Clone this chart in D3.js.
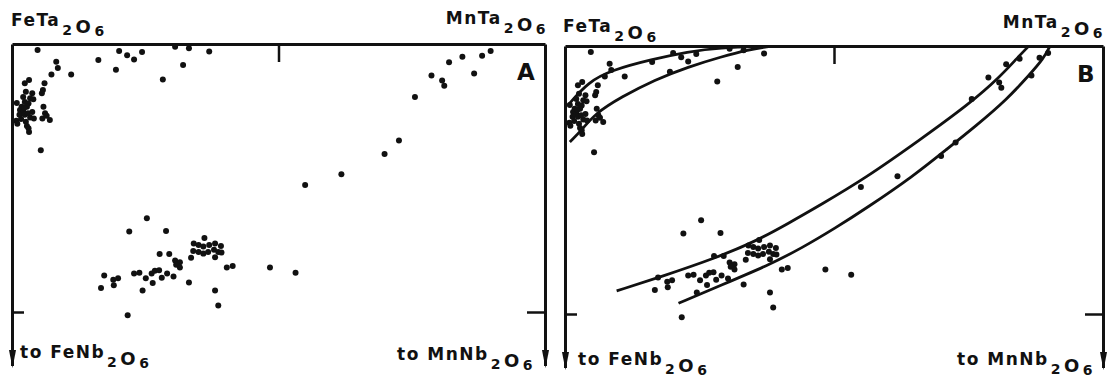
<!DOCTYPE html>
<html>
<head>
<meta charset="utf-8">
<script src="https://cdn.jsdelivr.net/npm/d3@7"></script>
<style>
  body { margin: 0; background: #fff; }
  svg { display: block; }
  text { font-family: "DejaVu Sans", sans-serif; font-weight: bold; fill: #111; }
</style>
</head>
<body>
<svg id="chart" width="1116" height="378"></svg>
<script>
// x = Mn/(Mn+Fe), y = Nb/(Nb+Ta) (0 at the tantalite edge, tick at 0.5)
// same analyses are plotted in both panels
const samplePoints = [
  [0.048, 0.011], [0.083, 0.033], [0.086, 0.045], [0.074, 0.057], [0.111, 0.057], [0.162, 0.030],
  [0.032, 0.067], [0.024, 0.073], [0.061, 0.073], [0.058, 0.086], [0.056, 0.092], [0.026, 0.089],
  [0.038, 0.092], [0.021, 0.099], [0.034, 0.101], [0.040, 0.103], [0.009, 0.110], [0.024, 0.108],
  [0.031, 0.111], [0.018, 0.117], [0.028, 0.117], [0.059, 0.117], [0.015, 0.123], [0.021, 0.126],
  [0.062, 0.129], [0.014, 0.132], [0.024, 0.132], [0.034, 0.137], [0.041, 0.139], [0.057, 0.139],
  [0.065, 0.134], [0.071, 0.142], [0.008, 0.143], [0.010, 0.149], [0.026, 0.145], [0.028, 0.153],
  [0.031, 0.157], [0.032, 0.164], [0.054, 0.198], [0.023, 0.119], [0.030, 0.129], [0.017, 0.140],
  [0.038, 0.127],
  [0.201, 0.013], [0.216, 0.021], [0.229, 0.029], [0.244, 0.015], [0.195, 0.048], [0.283, 0.066],
  [0.306, 0.005], [0.332, 0.008], [0.321, 0.039], [0.370, 0.014],
  [0.898, 0.013], [0.882, 0.022], [0.845, 0.024], [0.820, 0.034], [0.867, 0.055], [0.787, 0.059],
  [0.807, 0.068], [0.811, 0.078], [0.756, 0.099], [0.726, 0.180], [0.699, 0.205], [0.618, 0.243],
  [0.550, 0.263],
  [0.253, 0.325], [0.220, 0.350], [0.289, 0.349], [0.361, 0.362], [0.341, 0.372], [0.350, 0.375],
  [0.359, 0.378], [0.370, 0.375], [0.381, 0.372], [0.392, 0.377], [0.340, 0.386], [0.350, 0.388],
  [0.359, 0.391], [0.368, 0.388], [0.379, 0.384], [0.387, 0.388], [0.393, 0.389], [0.381, 0.398],
  [0.336, 0.399], [0.277, 0.392], [0.295, 0.392], [0.306, 0.404], [0.315, 0.407], [0.308, 0.412],
  [0.315, 0.417], [0.403, 0.417], [0.414, 0.414], [0.484, 0.417], [0.532, 0.427], [0.229, 0.428],
  [0.239, 0.427], [0.262, 0.428], [0.268, 0.423], [0.276, 0.422], [0.291, 0.428], [0.251, 0.437],
  [0.281, 0.436], [0.303, 0.434], [0.264, 0.446], [0.173, 0.432], [0.190, 0.440], [0.199, 0.437],
  [0.191, 0.450], [0.167, 0.455], [0.245, 0.460], [0.332, 0.445], [0.381, 0.460], [0.387, 0.488],
  [0.217, 0.506]
];

// trend envelopes drawn in panel B
const feTrendUpper = [
  [0.006, 0.110], [0.043, 0.067], [0.087, 0.045], [0.161, 0.025], [0.229, 0.011], [0.285, 0.003], [0.377, 0.001]
];
const feTrendLower = [
  [0.009, 0.179], [0.031, 0.157], [0.056, 0.126], [0.105, 0.095], [0.167, 0.063], [0.229, 0.039],
  [0.291, 0.020], [0.341, 0.007], [0.378, 0.001]
];
const mnTrendUpper = [
  [0.096, 0.457], [0.180, 0.430], [0.279, 0.396], [0.353, 0.365], [0.415, 0.331], [0.474, 0.297],
  [0.558, 0.247], [0.660, 0.175], [0.753, 0.107], [0.809, 0.057], [0.840, 0.023], [0.861, 0.001]
];
const mnTrendLower = [
  [0.211, 0.480], [0.291, 0.446], [0.378, 0.409], [0.440, 0.377], [0.502, 0.340], [0.561, 0.302],
  [0.647, 0.243], [0.709, 0.193], [0.765, 0.148], [0.821, 0.100], [0.864, 0.053], [0.889, 0.024], [0.901, 0.001]
];

const cornerLabels = {
  topLeft: ["FeTa", "2", "O", "6"],
  topRight: ["MnTa", "2", "O", "6"],
  bottomLeft: ["to FeNb", "2", "O", "6"],
  bottomRight: ["to MnNb", "2", "O", "6"]
};

const panels = [
  { name: "A", left: 12, right: 545, top: 44, curves: [],
    lab: { tl: [11, 26], tr: [547, 24], bl: [20, 358], br: [534, 360], letter: [517, 80] } },
  { name: "B", left: 565, right: 1103, top: 46, curves: [feTrendUpper, feTrendLower, mnTrendUpper, mnTrendLower],
    lab: { tl: [563, 32], tr: [1104, 28], bl: [578, 365], br: [1094, 365], letter: [1077, 82] } }
];

const svg = d3.select("#chart");

svg.append("defs")
  .append("marker")
  .attr("id", "arrow")
  .attr("markerUnits", "userSpaceOnUse")
  .attr("markerWidth", 18)
  .attr("markerHeight", 8)
  .attr("viewBox", "0 0 18 8")
  .attr("refX", 16)
  .attr("refY", 4)
  .attr("orient", "auto")
  .append("path")
  .attr("d", "M0,0.5 L18,4 L0,7.5 Z")
  .style("fill", "#111");

// writes a formula like FeTa2O6 with the typed, dropped subscripts
function formula(sel, pos, parts, anchor) {
  const t = sel.append("text")
    .attr("x", pos[0])
    .attr("y", pos[1])
    .attr("text-anchor", anchor)
    .style("font-size", "17px")
    .style("letter-spacing", "1.5px");
  t.append("tspan").text(parts[0]);
  t.append("tspan").attr("dx", 2).attr("dy", 9).style("font-size", "14px").text(parts[1]);
  t.append("tspan").attr("dx", 2).attr("dy", -2).style("font-size", "18px").text(parts[2]);
  t.append("tspan").attr("dx", 2).attr("dy", 3).style("font-size", "14px").text(parts[3]);
}

panels.forEach((p) => {
  const g = svg.append("g").attr("class", "panel-" + p.name);
  const x = d3.scaleLinear().domain([0, 1]).range([p.left, p.right]);
  const y = d3.scaleLinear().domain([0, 0.5]).range([p.top, p.top + 268]);
  // side axes run past the frame down to the arrows
  const ySide = d3.scaleLinear().domain([0, 0.6]).range([y(0), y(0.6)]);

  const topAxis = g.append("g")
    .attr("transform", `translate(0,${y(0)})`)
    .call(d3.axisTop(x).tickValues([0.5]).tickSize(-18).tickSizeOuter(0).tickFormat(""));

  const leftAxis = g.append("g")
    .attr("transform", `translate(${x(0)},0)`)
    .call(d3.axisLeft(ySide).tickValues([0.5]).tickSize(-12).tickSizeOuter(0).tickFormat(""));

  const rightAxis = g.append("g")
    .attr("transform", `translate(${x(1)},0)`)
    .call(d3.axisRight(ySide).tickValues([0.5]).tickSize(-18).tickSizeOuter(0).tickFormat(""));

  [topAxis, leftAxis, rightAxis].forEach((a) => {
    a.select(".domain").attr("stroke", "#111").attr("stroke-width", 3);
    a.selectAll(".tick line").attr("stroke", "#111").attr("stroke-width", 2.5);
  });
  leftAxis.select(".domain").attr("marker-end", "url(#arrow)");
  rightAxis.select(".domain").attr("marker-end", "url(#arrow)");

  g.selectAll(".trend")
    .data(p.curves)
    .join("path")
    .attr("class", "trend")
    .attr("d", d3.line().x((d) => x(d[0])).y((d) => y(d[1])).curve(d3.curveBasis))
    .attr("fill", "none")
    .attr("stroke", "#111")
    .attr("stroke-width", 2.8);

  g.selectAll(".dot")
    .data(samplePoints)
    .join("circle")
    .attr("class", "dot")
    .attr("cx", (d) => x(d[0]))
    .attr("cy", (d) => y(d[1]))
    .attr("r", 3)
    .attr("fill", "#111");

  formula(g, p.lab.tl, cornerLabels.topLeft, "start");
  formula(g, p.lab.tr, cornerLabels.topRight, "end");
  formula(g, p.lab.bl, cornerLabels.bottomLeft, "start");
  formula(g, p.lab.br, cornerLabels.bottomRight, "end");

  g.append("text")
    .attr("x", p.lab.letter[0])
    .attr("y", p.lab.letter[1])
    .style("font-size", "23px")
    .text(p.name);
});
</script>
</body>
</html>
